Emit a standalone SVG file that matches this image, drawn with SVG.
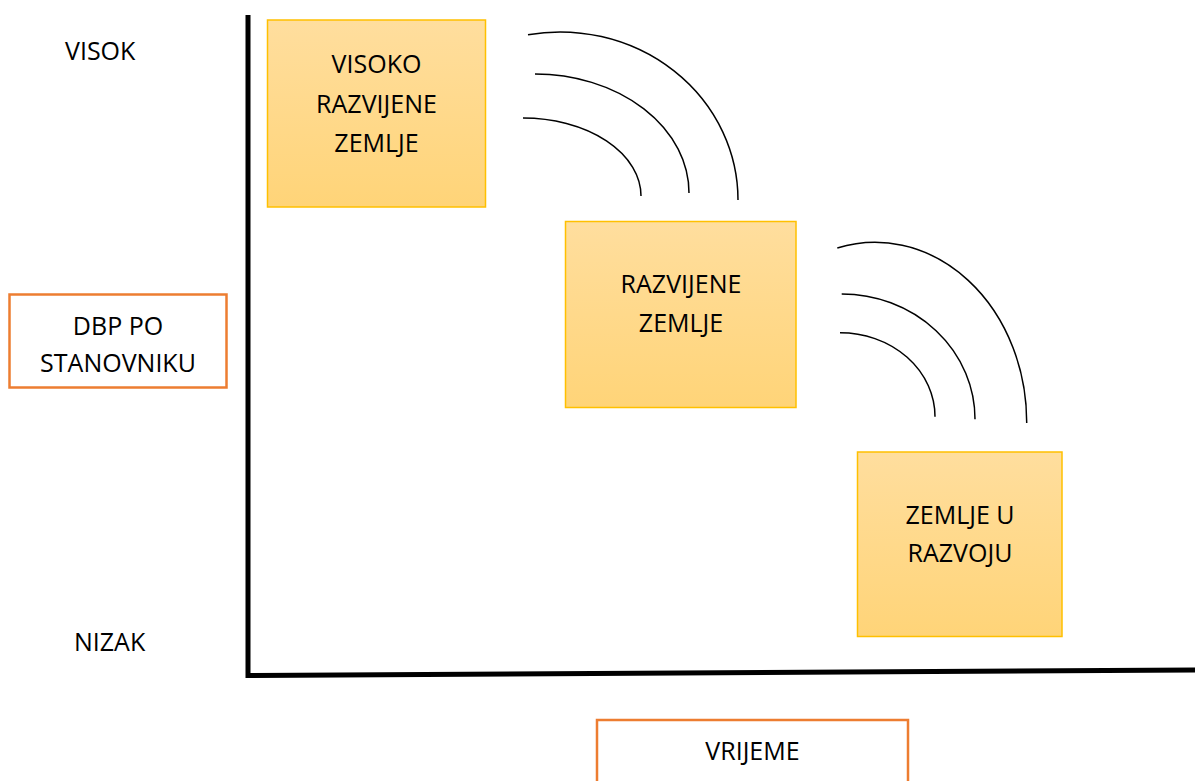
<svg xmlns="http://www.w3.org/2000/svg" width="1195" height="781" viewBox="0 0 1195 781">
<style>
.t{font-family:"Open Sans","Liberation Sans",sans-serif;font-size:25px;fill:#000;}
.c{text-anchor:middle;}
.box{fill:url(#g);stroke:#FFC000;stroke-width:1.5;}
.lbl{fill:#fff;stroke:#ED7D31;stroke-width:2.5;}
.arc{fill:none;stroke:#000;stroke-width:1.5;}
.axis{stroke:#000;stroke-width:5;fill:none;}
</style>
<defs>
<linearGradient id="g" x1="0" y1="0" x2="0" y2="1">
<stop offset="0" stop-color="#FFDE9E"/>
<stop offset="1" stop-color="#FFD478"/>
</linearGradient>
</defs>
<rect width="1195" height="781" fill="#fff"/>
<g id="axes">
<line class="axis" x1="248" y1="15" x2="248" y2="678"/>
<line class="axis" x1="246" y1="675.5" x2="1195" y2="670"/>
</g>
<g id="label-visok"><text class="t" x="65" y="60">VISOK</text></g>
<g id="label-nizak"><text class="t" x="74" y="650.5">NIZAK</text></g>
<g id="dbp">
<rect class="lbl" x="9.5" y="294.5" width="217" height="93"/>
<text class="t c" x="118" y="334.5">DBP PO</text>
<text class="t c" x="118" y="372">STANOVNIKU</text>
</g>
<g id="vrijeme">
<rect class="lbl" x="597" y="720" width="311" height="80"/>
<text class="t c" x="752.5" y="759.5">VRIJEME</text>
</g>
<g id="box1">
<rect class="box" x="267.5" y="20" width="218" height="187"/>
<text class="t c" x="376.5" y="73">VISOKO</text>
<text class="t c" x="376.5" y="112.5">RAZVIJENE</text>
<text class="t c" x="376.5" y="151.5">ZEMLJE</text>
</g>
<g id="box2">
<rect class="box" x="565.5" y="221.5" width="230.5" height="186"/>
<text class="t c" x="681" y="292.5">RAZVIJENE</text>
<text class="t c" x="681" y="331.5">ZEMLJE</text>
</g>
<g id="box3">
<rect class="box" x="857.5" y="452" width="204.5" height="184.5"/>
<text class="t c" x="960" y="523.5">ZEMLJE U</text>
<text class="t c" x="960" y="562">RAZVOJU</text>
</g>
<g id="connectors">
<path class="arc" d="M528,34.7 A178,168 0 0,1 738,200"/>
<path class="arc" d="M535,74 A154,119 0 0,1 689,193"/>
<path class="arc" d="M523,118 A118,78 0 0,1 641,196"/>
<path class="arc" d="M837.3,248 A151.7,180 0 0,1 1026.7,423"/>
<path class="arc" d="M841.7,294 A133.3,125 0 0,1 975,419.3"/>
<path class="arc" d="M840,332.7 A95,84 0 0,1 935,416.7"/>
</g>
</svg>
